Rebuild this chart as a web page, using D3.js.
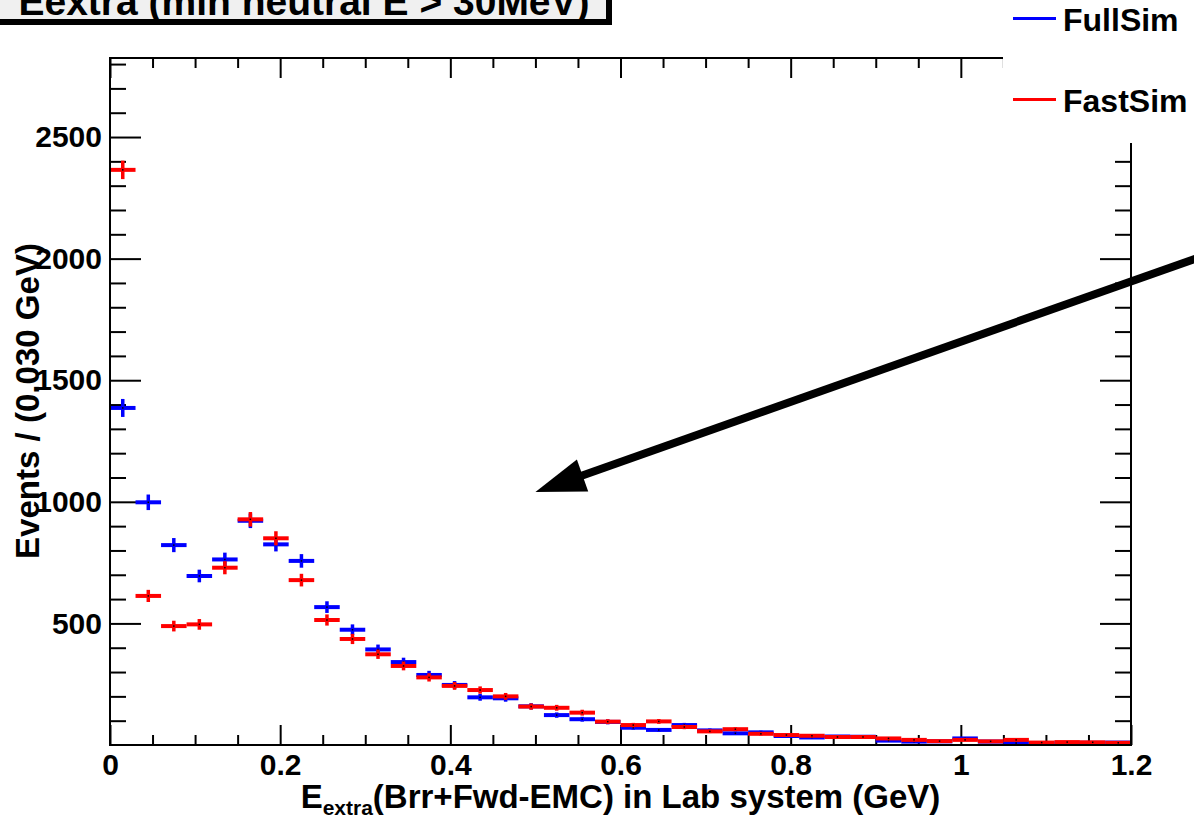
<!DOCTYPE html>
<html>
<head>
<meta charset="utf-8">
<script src="https://cdn.jsdelivr.net/npm/d3@7"></script>
<style>
  html, body { margin: 0; padding: 0; background: #fff; }
  svg { display: block; font-family: "Liberation Sans", Arial, Helvetica, sans-serif; font-weight: bold; }
</style>
</head>
<body>
<svg id="chart" width="1194" height="820"></svg>
<script>
// bins of 0.03 GeV
const binCenters = [0.015, 0.045, 0.075, 0.105, 0.135, 0.165, 0.195, 0.225, 0.255, 0.285,
  0.315, 0.345, 0.375, 0.405, 0.435, 0.465, 0.495, 0.525, 0.555, 0.585,
  0.615, 0.645, 0.675, 0.705, 0.735, 0.765, 0.795, 0.825, 0.855, 0.885,
  0.915, 0.945, 0.975, 1.005, 1.035, 1.065, 1.095, 1.125, 1.155, 1.185]
const binWidth = 0.03

const fullSim = [1386, 998, 822, 695, 763, 922, 825, 757, 567, 474,
  393, 341, 288, 247, 196, 192, 159, 123, 106, 95,
  71, 62, 82, 60, 48, 52, 37, 31, 35, 34,
  18, 14, 15, 27, 14, 8, 8, 6, 9, 10]
const fullSimErr = [37, 32, 29, 26, 28, 30, 29, 28, 24, 22,
  20, 18, 17, 16, 14, 14, 13, 11, 10, 10,
  8, 8, 9, 8, 7, 7, 6, 6, 6, 6,
  4, 4, 4, 5, 4, 3, 3, 2, 3, 3]

const fastSim = [2365, 613, 489, 496, 729, 928, 850, 678, 514, 436,
  373, 325, 278, 243, 226, 200, 158, 153, 133, 96,
  82, 97, 74, 56, 65, 46, 41, 38, 33, 33,
  27, 21, 16, 21, 15, 21, 10, 12, 11, 9]
const fastSimErr = [38, 25, 22, 22, 27, 30, 29, 26, 23, 21,
  19, 18, 17, 16, 15, 14, 13, 12, 12, 10,
  9, 10, 9, 7, 8, 7, 6, 6, 6, 6,
  5, 5, 4, 5, 4, 5, 3, 3, 3, 3]

const seriesNames = ['FullSim', 'FastSim']
const seriesColors = ['#0000ff', '#ff0000']

const xTickValues = [0, 0.2, 0.4, 0.6, 0.8, 1, 1.2]
const xTickLabels = ['0', '0.2', '0.4', '0.6', '0.8', '1', '1.2']
const yTickValues = [500, 1000, 1500, 2000, 2500]
const yTickLabels = ['500', '1000', '1500', '2000', '2500']

const titleText = 'Eextra (min neutral E > 30MeV)'
const yTitle = 'Events / (0.030 GeV)'
const arrowFrom = [1.3, 2030]
const arrowTo = [0.5, 1040]

drawChart()

function drawChart () {
  const dim = setDimensions()
  const scales = setScales(dim)
  const svg = d3.select('#chart')
  drawAxes(svg, dim, scales)
  drawSeries(svg, scales, fullSim, fullSimErr, seriesColors[0])
  drawSeries(svg, scales, fastSim, fastSimErr, seriesColors[1])
  drawFrame(svg, dim)
  drawArrow(svg, scales)
  drawLegend(svg)
  drawTitle(svg)
  drawAxisTitles(svg, dim)
}

function setDimensions () {
  const margin = {top: 58, right: 63, bottom: 75, left: 110}
  const width = 1194 - margin.left - margin.right
  const height = 820 - margin.top - margin.bottom
  return { width, height, margin }
}

function setScales ({ width, height, margin }) {
  return {
    xScale: d3.scaleLinear().domain([0, 1.2]).range([margin.left, margin.left + width]),
    yScale: d3.scaleLinear().domain([0, 2825]).range([margin.top + height, margin.top])
  }
}

function styleAxis (g) {
  g.select('.domain').remove()
  g.selectAll('.tick line').attr('stroke', '#000').attr('stroke-width', 2)
  g.selectAll('.tick text').attr('fill', '#000').attr('font-size', 30)
    .attr('font-family', '"Liberation Sans", Arial, sans-serif').attr('font-weight', 'bold')
}

function drawAxes (svg, { width, height, margin }, { xScale, yScale }) {
  const bottom = margin.top + height
  const right = margin.left + width
  const xMinor = d3.range(0, 1.2001, 0.05).filter(v => Math.abs(v / 0.2 - Math.round(v / 0.2)) > 1e-6)
  const yMinor = d3.range(100, 2825, 100).filter(v => v % 500 !== 0)

  // bottom, major with labels
  svg.append('g').attr('transform', `translate(0,${bottom})`)
    .call(d3.axisBottom(xScale).tickValues(xTickValues).tickSize(-20).tickPadding(9)
      .tickFormat((d, i) => xTickLabels[i]))
    .call(styleAxis)
  svg.append('g').attr('transform', `translate(0,${bottom})`)
    .call(d3.axisBottom(xScale).tickValues(xMinor).tickSize(-10).tickFormat(''))
    .call(styleAxis)
  // top, ticks only
  svg.append('g').attr('transform', `translate(0,${margin.top})`)
    .call(d3.axisTop(xScale).tickValues(xTickValues).tickSize(-20).tickFormat(''))
    .call(styleAxis)
  svg.append('g').attr('transform', `translate(0,${margin.top})`)
    .call(d3.axisTop(xScale).tickValues(xMinor).tickSize(-10).tickFormat(''))
    .call(styleAxis)
  // left, major with labels
  svg.append('g').attr('transform', `translate(${margin.left},0)`)
    .call(d3.axisLeft(yScale).tickValues(yTickValues).tickSize(-31).tickPadding(8)
      .tickFormat((d, i) => yTickLabels[i]))
    .call(styleAxis)
  svg.append('g').attr('transform', `translate(${margin.left},0)`)
    .call(d3.axisLeft(yScale).tickValues(yMinor).tickSize(-16).tickFormat(''))
    .call(styleAxis)
  // right, ticks only
  svg.append('g').attr('transform', `translate(${right},0)`)
    .call(d3.axisRight(yScale).tickValues(yTickValues).tickSize(-31).tickFormat(''))
    .call(styleAxis)
  svg.append('g').attr('transform', `translate(${right},0)`)
    .call(d3.axisRight(yScale).tickValues(yMinor).tickSize(-16).tickFormat(''))
    .call(styleAxis)
}

function drawFrame (svg, { width, height, margin }) {
  svg.append('rect')
    .attr('x', margin.left).attr('y', margin.top)
    .attr('width', width).attr('height', height)
    .attr('fill', 'none').attr('stroke', '#000').attr('stroke-width', 2)
}

function drawSeries (svg, { xScale, yScale }, values, errors, color) {
  const g = svg.append('g')
  const pts = values.map((v, i) => ({ x: binCenters[i], y: v, e: errors[i] }))
  g.selectAll('line.h').data(pts).enter().append('line')
    .attr('x1', d => xScale(d.x - binWidth / 2)).attr('x2', d => xScale(d.x + binWidth / 2))
    .attr('y1', d => yScale(d.y)).attr('y2', d => yScale(d.y))
    .attr('stroke', color).attr('stroke-width', 4)
  g.selectAll('line.v').data(pts).enter().append('line')
    .attr('x1', d => xScale(d.x)).attr('x2', d => xScale(d.x))
    .attr('y1', d => yScale(d.y - d.e)).attr('y2', d => yScale(d.y + d.e))
    .attr('stroke', color).attr('stroke-width', 3.5)
  g.selectAll('rect').data(pts).enter().append('rect')
    .attr('x', d => xScale(d.x) - 0.75).attr('y', d => yScale(d.y) - 0.75)
    .attr('width', 1.5).attr('height', 1.5).attr('fill', '#000')
}

function drawArrow (svg, { xScale, yScale }) {
  const x0 = xScale(arrowFrom[0]), y0 = yScale(arrowFrom[1])
  const x1 = xScale(arrowTo[0]), y1 = yScale(arrowTo[1])
  const len = Math.hypot(x0 - x1, y0 - y1)
  const ux = (x0 - x1) / len, uy = (y0 - y1) / len
  const headLen = 50, headHalf = 17
  const bx = x1 + ux * headLen, by = y1 + uy * headLen
  svg.append('line')
    .attr('x1', x0).attr('y1', y0).attr('x2', bx - ux * 4).attr('y2', by - uy * 4)
    .attr('stroke', '#000').attr('stroke-width', 8)
  svg.append('path')
    .attr('d', `M${x1},${y1}L${bx - uy * headHalf},${by + ux * headHalf}L${bx + uy * headHalf},${by - ux * headHalf}Z`)
    .attr('fill', '#000')
}

function drawLegend (svg) {
  svg.append('rect').attr('x', 1003).attr('y', 0).attr('width', 191).attr('height', 143).attr('fill', '#fff')
  const rows = [{ y: 18.5, base: 31 }, { y: 99.5, base: 112 }]
  rows.forEach((r, i) => {
    svg.append('line').attr('x1', 1013).attr('x2', 1056).attr('y1', r.y).attr('y2', r.y)
      .attr('stroke', seriesColors[i]).attr('stroke-width', 3)
    svg.append('text').attr('x', 1063).attr('y', r.base).attr('font-size', 32)
      .attr('fill', '#000').text(seriesNames[i])
  })
}

function drawTitle (svg) {
  // title pave, cut off by the top of the canvas as in the original
  svg.append('rect').attr('x', -10).attr('y', -30).attr('width', 622).attr('height', 55).attr('fill', '#000')
  svg.append('rect').attr('x', -10).attr('y', -30).attr('width', 617).attr('height', 50)
    .attr('fill', '#f0f0f0').attr('stroke', '#000').attr('stroke-width', 2)
  svg.append('text').attr('x', 304).attr('y', 15).attr('text-anchor', 'middle')
    .attr('font-size', 39).attr('fill', '#000').text(titleText)
}

function drawAxisTitles (svg, { width, margin }) {
  const xt = svg.append('text').attr('x', margin.left + width / 2).attr('y', 808)
    .attr('text-anchor', 'middle').attr('font-size', 33).attr('fill', '#000')
  xt.append('tspan').text('E')
  xt.append('tspan').attr('font-size', 21).attr('dy', 7).text('extra')
  xt.append('tspan').attr('dy', -7).text('(Brr+Fwd-EMC) in Lab system (GeV)')

  svg.append('text').attr('transform', 'translate(39,401) rotate(-90)')
    .attr('text-anchor', 'middle').attr('font-size', 34).attr('fill', '#000')
    .attr('textLength', 316).attr('lengthAdjust', 'spacingAndGlyphs')
    .text(yTitle)
}
</script>
</body>
</html>
